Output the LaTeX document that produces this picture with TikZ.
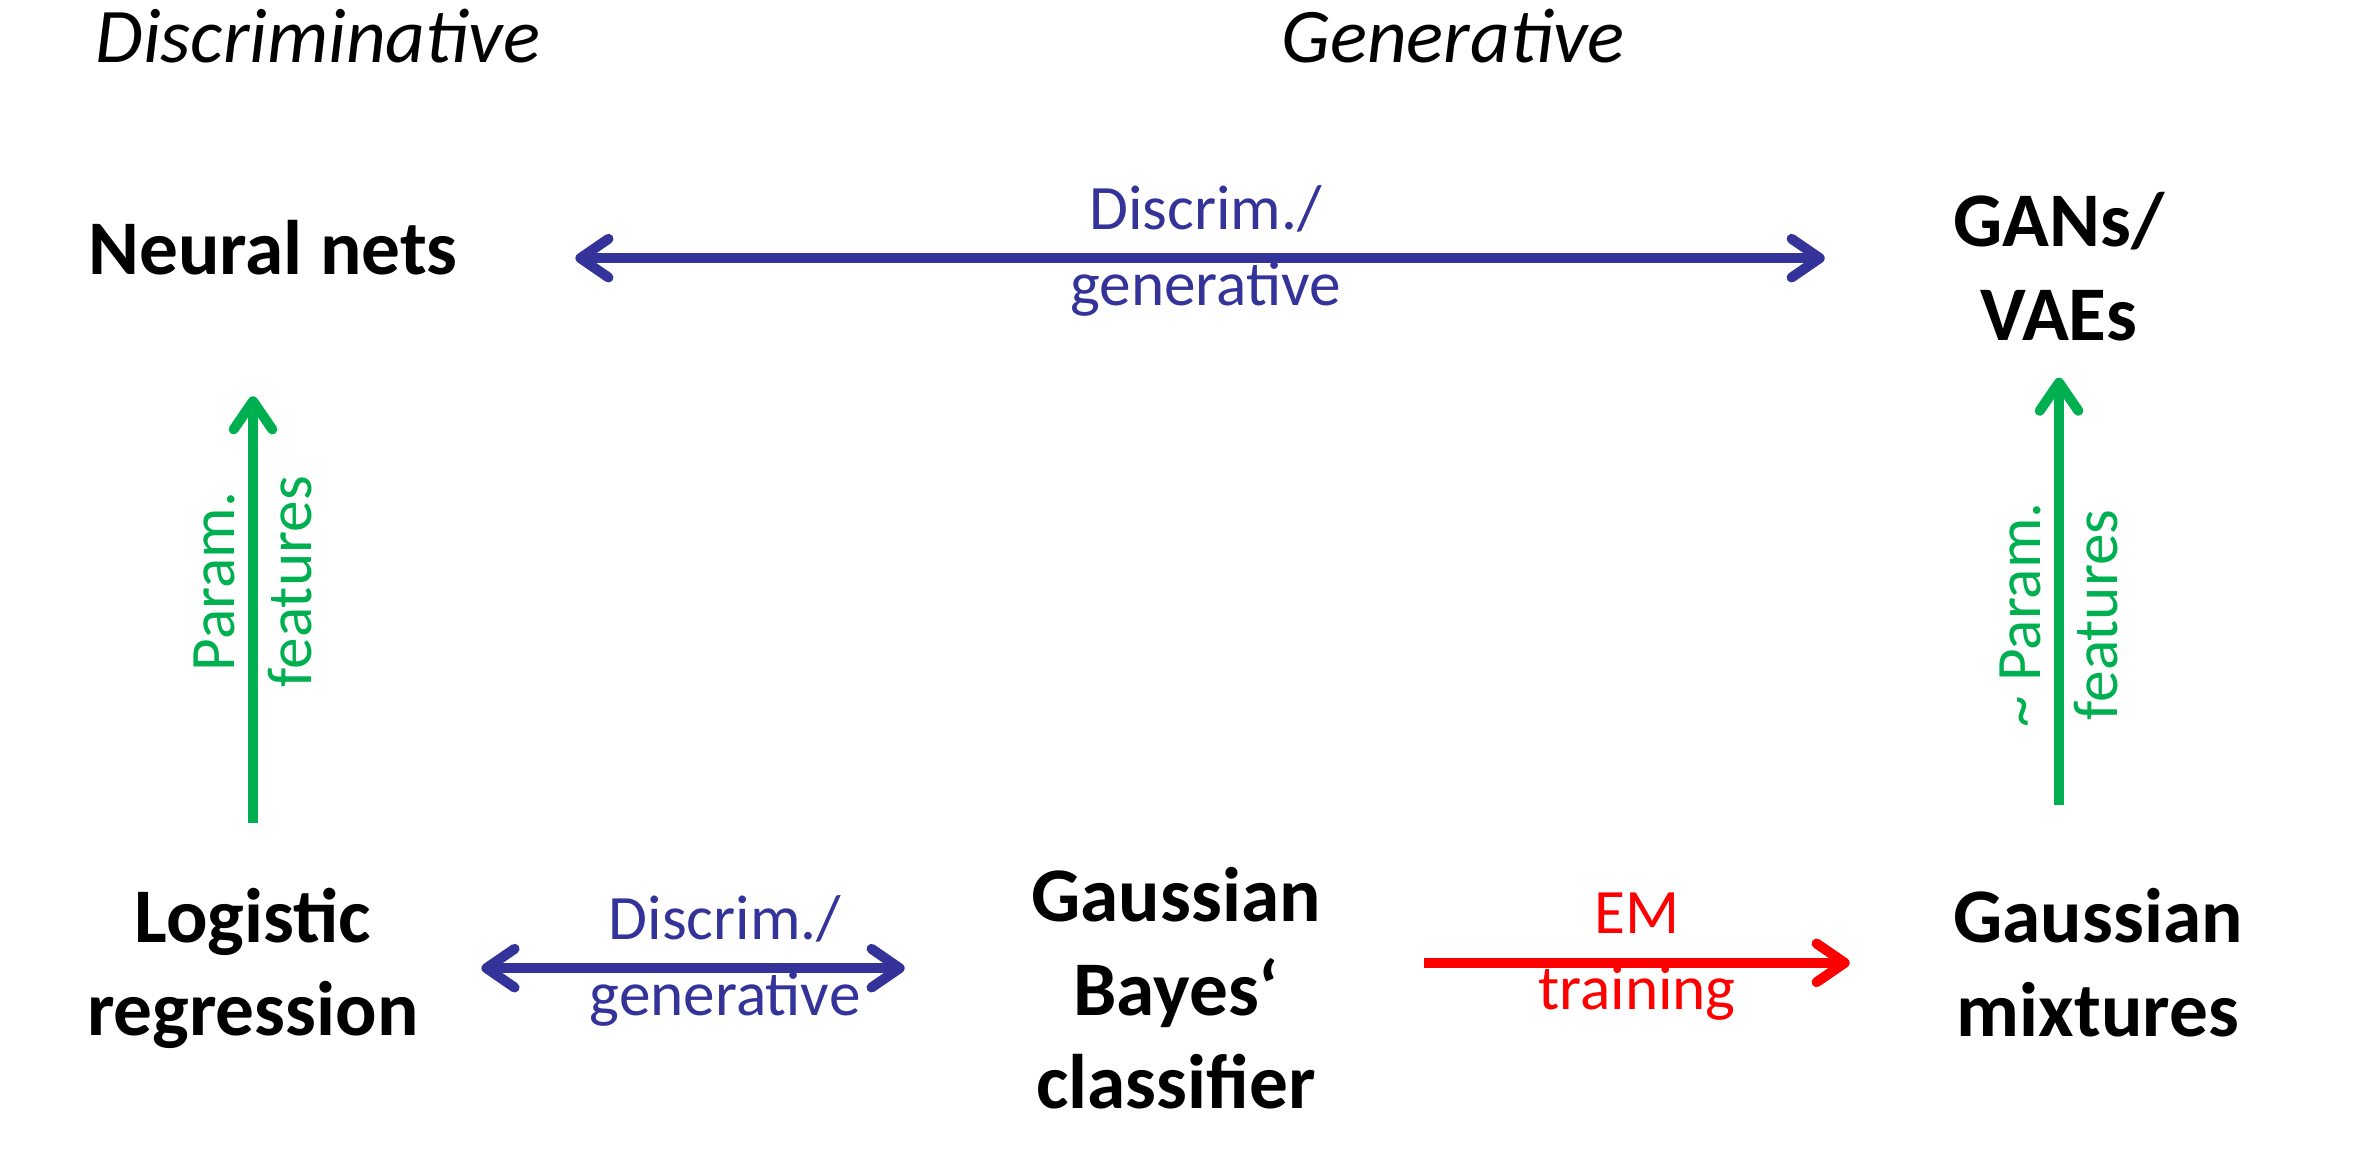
\documentclass[tikz,border=0pt]{standalone}
\usepackage{fontspec}
\setmainfont{Carlito}
\usepackage{xcolor}
\definecolor{relBlue}{HTML}{333399}
\definecolor{relGreen}{HTML}{00B050}
\definecolor{relRed}{HTML}{FF0000}
\usetikzlibrary{arrows.meta,calc}

\begin{document}
\begin{tikzpicture}[>={Straight Barb[length=8pt,width=11pt,round]},
  model/.style={font=\fontsize{22}{26.6}\selectfont\bfseries, align=center, inner sep=0pt},
  heading/.style={font=\fontsize{22}{26.6}\selectfont\itshape, inner sep=0pt, anchor=base},
  lbl/.style={font=\fontsize{18}{21.8}\selectfont, align=center, inner sep=0pt},
  lblup/.style={lbl, anchor=base, yshift=0.29cm},
  lbldn/.style={lbl, anchor=base, yshift=-0.47cm},
  rel/.style={line width=2.85pt}]
  \useasboundingbox (0,0) rectangle (23.76,11.58);
  % column headings
  \node[heading] (disc) at (3.18,10.95) {Discriminative};
  \node[heading] (gen) at (14.53,10.95) {Generative};
  % models
  \node[model, anchor=base] (nn) at (2.73,8.83) {Neural nets};
  \node[model, anchor=north] (gan) at (20.59,9.66) {GANs/\\VAEs};
  \node[model, anchor=north] (lr) at (2.53,2.71) {Logistic\\regression};
  \node[model, anchor=north] (gbc) at (11.76,2.91) {Gaussian\\Bayes‘\\classifier};
  \node[model, anchor=north] (gm) at (20.98,2.70) {Gaussian\\mixtures};
  % relations
  \draw[rel, relBlue, <->, shorten <=1.17cm, shorten >=1.28cm]
    ([yshift=-0.1cm]nn.east) -- ([yshift=-0.1cm]nn.east -| gan.west)
    node[midway, lblup] (t1) {Discrim./}
    node[midway, lbldn] (t2) {generative};
  \draw[rel, relBlue, <->, shorten <=0.62cm, shorten >=1.26cm]
    (lr.east) -- (lr.east -| gbc.west)
    node[midway, lblup] (t3) {Discrim./}
    node[midway, lbldn] (t4) {generative};
  \draw[rel, relRed, ->, shorten <=1.03cm, shorten >=1.03cm]
    (gm.west -| gbc.east) -- (gm.west)
    node[midway, lblup] (t5) {EM}
    node[midway, lbldn] (t6) {training};
  \draw[rel, relGreen, ->, shorten <=0.64cm, shorten >=1.20cm]
    (lr.north) -- (lr.north |- nn.south)
    node[midway, lbl, rotate=90] (t7) {Param.\\features};
  \draw[rel, relGreen, ->, shorten <=0.83cm, shorten >=0.36cm]
    (gm.north -| gan.south) -- (gan.south)
    node[midway, lbl, rotate=90] (t8) {\textasciitilde{} Param.\\features};
\end{tikzpicture}
\end{document}
